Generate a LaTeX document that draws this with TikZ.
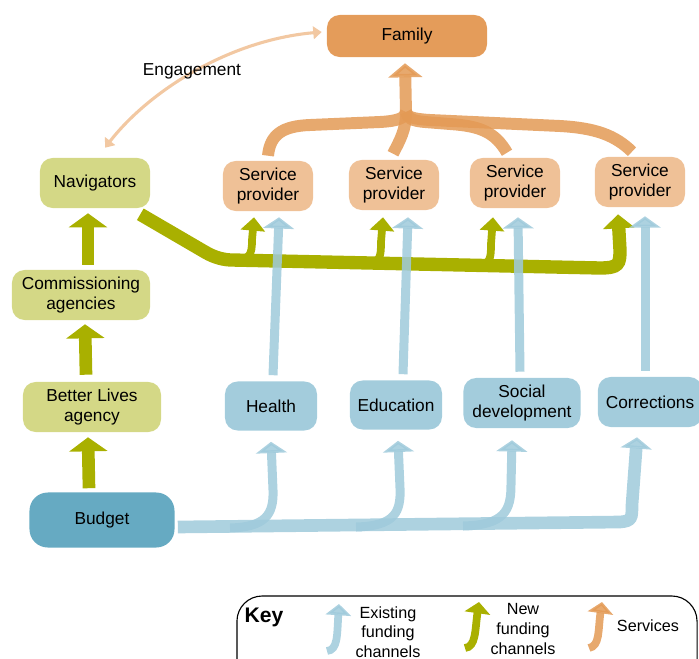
\documentclass[tikz,border=0pt]{standalone}
\usepackage{fontspec}
\setmainfont{Liberation Sans}
\usepackage{tikz}
\usetikzlibrary{positioning, arrows.meta, calc, backgrounds}
\definecolor{famorange}{HTML}{E49C5A}
\definecolor{provorange}{HTML}{EFC197}
\definecolor{navgreen}{HTML}{D4D886}
\definecolor{flowgreen}{HTML}{A9B000}
\definecolor{deptblue}{HTML}{A3CCDC}
\definecolor{budgetblue}{HTML}{66AAC2}
\definecolor{flowblue}{HTML}{9FCADB}
\definecolor{flowornge}{HTML}{E39A55}
\definecolor{engage}{HTML}{F2C8A2}

\begin{document}
\begin{tikzpicture}[
  x=0.025cm, y=-0.025cm,
  unit/.style={
    rectangle, rounded corners=9pt, fill=#1,
    minimum height=1.25cm, inner sep=2pt,
    font=\fontsize{12.3}{14}\selectfont, align=center
  },
  newfund/.style={draw=flowgreen, line width=9pt,
    -{Triangle[width=27pt, length=10pt]}},
  newbranch/.style={draw=flowgreen, line width=5.5pt,
    -{Triangle[width=17pt, length=9.5pt]}},
  oldfund/.style={draw=flowblue, line width=6.4pt, opacity=.85,
    -{Triangle[width=22pt, length=8pt]}},
  servflow/.style={draw=flowornge, line width=8.5pt, opacity=.85},
  keytext/.style={font=\fontsize{11.5}{14}\selectfont, align=center},
]
\useasboundingbox (0,0) rectangle (699,659);

% Top
\node[unit=famorange, minimum width=4cm, minimum height=1.05cm] (fam)
  at (407,36) {Family};

% Left column
\node[unit=navgreen, minimum width=2.75cm] (nav) at (95,183) {Navigators};
\node[unit=navgreen, minimum width=3.45cm] (com) at (81,295)
  {Commissioning\\agencies};
\node[unit=navgreen, minimum width=3.45cm] (bla) at (92,407)
  {Better Lives\\agency};
\node[unit=budgetblue, minimum width=3.625cm, minimum height=1.375cm,
      rounded corners=13pt] (bud) at (102,520) {Budget};

% Service providers
\node[unit=provorange, minimum width=2.25cm] (sp1) at (268,186)
  {Service\\provider};
\node[unit=provorange, minimum width=2.25cm] (sp2) at (394,185)
  {Service\\provider};
\node[unit=provorange, minimum width=2.25cm] (sp3) at (515,183)
  {Service\\provider};
\node[unit=provorange, minimum width=2.25cm] (sp4) at (640,182)
  {Service\\provider};

% Departments
\node[unit=deptblue, minimum width=2.3cm, minimum height=1.225cm] (hea)
  at (271,406) {Health};
\node[unit=deptblue, minimum width=2.3cm, minimum height=1.225cm] (edu)
  at (396,405) {Education};
\node[unit=deptblue, minimum width=2.925cm] (soc) at (522,403)
  {Social\\development};
\node[unit=deptblue, minimum width=2.6cm] (cor) at (650,402)
  {Corrections};

% Junction points
\coordinate (ob) at (406,112);
\coordinate (g1) at (232,260);
\coordinate (g2) at (365,263);
\coordinate (g3) at (475,265);
\coordinate (b1) at (230,528);
\coordinate (b2) at (356,527);
\coordinate (b3) at (463,526);

\begin{scope}[on background layer]
  % Services
  \draw[servflow, -{Triangle[width=24pt, length=10pt]}]
    ($(sp2.north)+(-1,-6)$) .. controls (400,140) and (406,130) .. (ob)
    -- ($(fam.south)+(-2,6)$);
  \draw[servflow] ($(sp1.north)+(0,-5)$) .. controls (270,135) and (282,126)
    .. (310,125) -- (380,122) .. controls (398,121) and (405,118) .. (ob);
  \draw[servflow] ($(sp3.north)+(-8,-5)$) .. controls (495,132) and (480,126)
    .. (450,124) -- (425,122) .. controls (412,121) and (407,118) .. (ob);
  \draw[servflow] ($(sp4.north)+(-8,-5)$) .. controls (615,135) and (595,128)
    .. (560,126) -- (430,120) .. controls (413,119) and (407,117) .. (ob);

  % New funding
  \draw[newfund] ($(bud.north)+(-13,-4)$) -- ($(bla.south)+(-4,5)$);
  \draw[newfund] ($(bla.north)+(-6,-7)$) -- ($(com.south)+(4,4)$);
  \draw[newfund] ($(com.north)+(7,-5)$) -- ($(nav.south)+(-7,5)$);
  \draw[newfund, line width=9.5pt, -{Triangle[width=22pt, length=10pt]}]
    ($(nav.south east)+(-10,6)$) -- (205,252)
    .. controls (215,258) and (225,260) .. (g1) -- (600,268)
    .. controls (619,268) and (620,264) .. (620,250)
    -- ($(sp4.south)+(-22,7)$);
  \draw[newbranch] (g1) .. controls (250,260) and (252,255) .. (252,240)
    -- ($(sp1.south)+(-14,6)$);
  \draw[newbranch] (g2) .. controls (380,263) and (381,258) .. (381,242)
    -- ($(sp2.south)+(-11,7)$);
  \draw[newbranch] (g3) .. controls (490,265) and (491,260) .. (491,244)
    -- ($(sp3.south)+(-22,9)$);

  % Existing funding
  \draw[oldfund] ($(hea.north)+(2,-6)$) -- ($(sp1.south)+(11,6)$);
  \draw[oldfund] ($(edu.north)+(7,-6)$) -- ($(sp2.south)+(14,7)$);
  \draw[oldfund] ($(soc.north)+(-2,-6)$) -- ($(sp3.south)+(3,9)$);
  \draw[oldfund] ($(cor.north)+(-5,-6)$) -- ($(sp4.south)+(5,9)$);
  \draw[oldfund, line width=9pt] ($(bud.east)+(3,7)$) -- (620,522)
    .. controls (632,521) and (632,518) .. (632,505)
    -- ($(cor.south)+(-13,10)$);
  \draw[oldfund] (b1) .. controls (265,527) and (274,515) .. (273,490)
    -- ($(hea.south)+(0,11)$);
  \draw[oldfund] (b2) .. controls (395,526) and (401,512) .. (400,488)
    -- ($(edu.south)+(2,11)$);
  \draw[oldfund] (b3) .. controls (505,525) and (511,510) .. (511,485)
    -- ($(soc.south)+(-10,12)$);
\end{scope}

% Engagement
\draw[engage, line width=2.2pt,
      {Triangle[width=9pt, length=6pt]}-{Triangle[width=9pt, length=6pt]}]
  ($(nav.north)+(10,-10)$) .. controls (150,90) and (230,40)
  .. ($(fam.west)+(-5,-4)$);
\node[font=\fontsize{12.3}{14}\selectfont] (eng) at (192,71) {Engagement};

% Key
\node[draw, line width=0.8pt, rounded corners=18pt, minimum width=11.5cm,
      minimum height=2.5cm] (keybox) at (467,646) {};
\node[font=\bfseries\fontsize{15}{18}\selectfont] (keylab) at (264,617)
  {Key};
\node[keytext] (kold) at (388,632) {Existing\\funding\\channels};
\node[keytext] (knew) at (523,629) {New\\funding\\channels};
\node[keytext] (kserv) at (648,626) {Services};
\draw[oldfund, line width=5.5pt, -{Triangle[width=18pt, length=8pt]}]
  (327,651) .. controls (338,650) and (337,635) .. (339,604);
\draw[newfund, line width=5.5pt, -{Triangle[width=18pt, length=8pt]}]
  (465,648) .. controls (476,647) and (475,630) .. (479,602);
\draw[servflow, line width=5.5pt, -{Triangle[width=18pt, length=8pt]}]
  (589,648) .. controls (600,646) and (598,630) .. (602,602);

\end{tikzpicture}
\end{document}
